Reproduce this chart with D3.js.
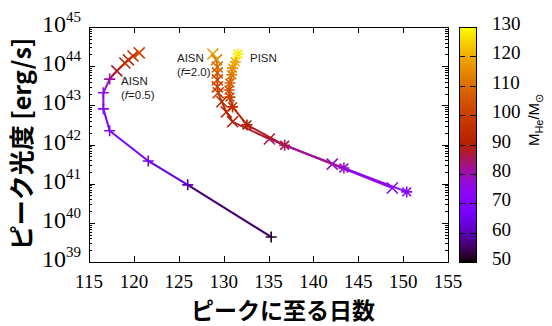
<!DOCTYPE html>
<html>
<head>
<meta charset="utf-8">
<script src="https://cdn.jsdelivr.net/npm/d3@7"></script>
<style>
  body { margin: 0; background: #fff; }
  svg { display: block; }
</style>
</head>
<body>
<div id="container"></div>
<script>
const WIDTH = 552;
const HEIGHT = 326;
const PLOT = { LEFT: 89, RIGHT: 448, TOP: 27, BOTTOM: 262 };
const BAR = { LEFT: 459, RIGHT: 476 };

// days to peak, log10 peak luminosity, helium core mass, marker
const aisn05Days = [135.3, 126.0, 121.6, 117.3, 116.6, 116.6, 117.3, 118.1, 119.0, 119.4, 119.9, 120.6];
const aisn05LogL = [39.64, 40.97, 41.58, 42.35, 42.91, 43.32, 43.67, 43.88, 44.08, 44.16, 44.26, 44.34];
const aisn05Mass = [52, 60, 66, 70, 73, 75, 81, 88, 92, 95, 98, 102];
const aisn05Mark = ['+', '+', '+', '+', '+', '+', '+', 'x', 'x', 'x', 'x', 'x'];

const aisn20Days = [148.8, 142.1, 135.1, 131.0, 130.3, 129.8, 129.4, 129.3, 129.3, 129.3, 129.3, 129.2, 128.8];
const aisn20LogL = [40.89, 41.50, 42.14, 42.58, 42.83, 43.09, 43.32, 43.47, 43.65, 43.83, 43.98, 44.16, 44.31];
const aisn20Mass = [72, 78, 86, 90, 92, 95, 98, 101, 103, 106, 109, 113, 118];

const pisnDays = [150.4, 143.4, 136.8, 132.6, 131.0, 130.7, 130.6, 130.7, 130.9, 131.0, 131.3, 131.6];
const pisnLogL = [40.79, 41.40, 41.98, 42.50, 42.96, 43.21, 43.39, 43.57, 43.78, 43.95, 44.11, 44.31];
const pisnMass = [72, 78, 86, 90, 95, 100, 104, 108, 112, 116, 120, 128];

const xTicks = [115, 120, 125, 130, 135, 140, 145, 150, 155];
const yExponents = [39, 40, 41, 42, 43, 44, 45];
const massTicks = [50, 60, 70, 80, 90, 100, 110, 120, 130];

// gnuplot default palette (rgbformulae 7,5,15)
const palette = t => {
  const r = Math.sqrt(t);
  const g = t * t * t;
  const b = Math.max(0, Math.sin(2 * Math.PI * t));
  return d3.rgb(r * 255, g * 255, b * 255).toString();
};
const massToT = d3.scaleLinear().domain([50, 130]).range([0, 1]).clamp(true);
const massColor = m => palette(massToT(m));

const x = d3.scaleLinear().domain([115, 155]).range([PLOT.LEFT, PLOT.RIGHT]);
const y = d3.scaleLog().domain([1e39, 1e45]).range([PLOT.BOTTOM, PLOT.TOP]);
const yBar = d3.scaleLinear().domain([50, 130]).range([PLOT.BOTTOM, PLOT.TOP]);

const svg = d3.select('#container')
  .append('svg')
    .attr('width', WIDTH)
    .attr('height', HEIGHT);

// axes ticks (inward, on all sides)
const axisG = svg.append('g').attr('stroke', '#000').attr('stroke-width', 1);
xTicks.forEach(v => {
  const px = Math.round(x(v)) + 0.5;
  axisG.append('line').attr('x1', px).attr('x2', px).attr('y1', PLOT.BOTTOM).attr('y2', PLOT.BOTTOM - 6);
  axisG.append('line').attr('x1', px).attr('x2', px).attr('y1', PLOT.TOP).attr('y2', PLOT.TOP + 6);
});
yExponents.forEach(e => {
  for (let k = 1; k <= 9; k++) {
    const v = k * Math.pow(10, e);
    if (v > 1e45) break;
    const py = Math.round(y(v)) + 0.5;
    const len = k === 1 ? 6 : 3;
    axisG.append('line').attr('x1', PLOT.LEFT).attr('x2', PLOT.LEFT + len).attr('y1', py).attr('y2', py);
    axisG.append('line').attr('x1', PLOT.RIGHT).attr('x2', PLOT.RIGHT - len).attr('y1', py).attr('y2', py);
  }
});
svg.append('rect')
  .attr('x', PLOT.LEFT + 0.5).attr('y', PLOT.TOP + 0.5)
  .attr('width', PLOT.RIGHT - PLOT.LEFT).attr('height', PLOT.BOTTOM - PLOT.TOP)
  .attr('fill', 'none').attr('stroke', '#000');

// tick labels
svg.append('g').selectAll('text')
  .data(xTicks).enter().append('text')
    .attr('x', d => x(d)).attr('y', 288)
    .attr('text-anchor', 'middle')
    .attr('font-family', '"Liberation Serif", serif')
    .attr('font-size', 19)
    .text(d => d);

const yLab = svg.append('g').selectAll('text')
  .data(yExponents).enter().append('text')
    .attr('x', 81).attr('y', d => y(Math.pow(10, d)) + 5)
    .attr('text-anchor', 'end')
    .attr('font-family', '"Liberation Serif", serif')
    .attr('font-size', 24);
yLab.append('tspan').text('10');
yLab.append('tspan').attr('dy', -10).attr('font-size', 15).text(d => d);

// series
const series = [
  { days: aisn05Days, logL: aisn05LogL, mass: aisn05Mass, marks: aisn05Mark },
  { days: aisn20Days, logL: aisn20LogL, mass: aisn20Mass, marks: aisn20Days.map(() => 'x') },
  { days: pisnDays, logL: pisnLogL, mass: pisnMass, marks: pisnDays.map(() => '*') }
];

const plotG = svg.append('g');
const S = 5.5;
const markPath = (m, cx, cy) => {
  const p = d3.path();
  if (m === '+' || m === '*') {
    p.moveTo(cx - S, cy); p.lineTo(cx + S, cy);
    p.moveTo(cx, cy - S); p.lineTo(cx, cy + S);
  }
  if (m === 'x' || m === '*') {
    const s = m === '*' ? S * 0.8 : S;
    p.moveTo(cx - s, cy - s); p.lineTo(cx + s, cy + s);
    p.moveTo(cx - s, cy + s); p.lineTo(cx + s, cy - s);
  }
  return p.toString();
};

series.forEach(s => {
  const pts = s.days.map((d, i) => ({ px: x(d), py: y(Math.pow(10, s.logL[i])), m: s.mass[i], mk: s.marks[i] }));
  for (let i = 0; i < pts.length - 1; i++) {
    plotG.append('line')
      .attr('x1', pts[i].px).attr('y1', pts[i].py)
      .attr('x2', pts[i + 1].px).attr('y2', pts[i + 1].py)
      .attr('stroke', massColor((pts[i].m + pts[i + 1].m) / 2))
      .attr('stroke-width', 2)
      .attr('stroke-linecap', 'round');
  }
  pts.forEach(p => {
    plotG.append('path')
      .attr('d', markPath(p.mk, p.px, p.py))
      .attr('stroke', massColor(p.m))
      .attr('stroke-width', 1.6)
      .attr('fill', 'none');
  });
});

// annotations
const notes = [
  { t: 'AISN', x: 121, y: 85 },
  { t: '(f=0.5)', x: 121, y: 99, f: true },
  { t: 'AISN', x: 177, y: 62 },
  { t: '(f=2.0)', x: 177, y: 76, f: true },
  { t: 'PISN', x: 250, y: 62 }
];
notes.forEach(n => {
  const t = svg.append('text')
    .attr('x', n.x).attr('y', n.y)
    .attr('font-family', '"Liberation Sans", Arial, sans-serif')
    .attr('font-size', 11.5)
    .attr('fill', '#222');
  if (n.f) {
    t.append('tspan').text('(');
    t.append('tspan').attr('font-style', 'italic').text('f');
    t.append('tspan').text(n.t.slice(2));
  } else {
    t.text(n.t);
  }
});

// colour bar
const defs = svg.append('defs');
const grad = defs.append('linearGradient')
  .attr('id', 'cbar').attr('x1', 0).attr('y1', 1).attr('x2', 0).attr('y2', 0);
d3.range(0, 1.0001, 0.02).forEach(t => {
  grad.append('stop').attr('offset', t).attr('stop-color', palette(t));
});
svg.append('rect')
  .attr('x', BAR.LEFT + 0.5).attr('y', PLOT.TOP + 0.5)
  .attr('width', BAR.RIGHT - BAR.LEFT).attr('height', PLOT.BOTTOM - PLOT.TOP)
  .attr('fill', 'url(#cbar)')
  .attr('stroke', '#000');
massTicks.slice(1, -1).forEach(v => {
  const py = Math.round(yBar(v)) + 0.5;
  svg.append('line').attr('x1', BAR.LEFT).attr('x2', BAR.LEFT + 6).attr('y1', py).attr('y2', py).attr('stroke', '#000');
  svg.append('line').attr('x1', BAR.RIGHT - 6).attr('x2', BAR.RIGHT).attr('y1', py).attr('y2', py).attr('stroke', '#000');
});
svg.append('g').selectAll('text')
  .data(massTicks).enter().append('text')
    .attr('x', 492).attr('y', d => yBar(d) + 3)
    .attr('font-family', '"Liberation Serif", serif')
    .attr('font-size', 19)
    .text(d => d);

const cbLabel = svg.append('text')
  .attr('transform', 'translate(539,120) rotate(-90)')
  .attr('text-anchor', 'middle')
  .attr('font-family', '"Liberation Sans", Arial, sans-serif')
  .attr('font-size', 15);
cbLabel.append('tspan').text('M');
cbLabel.append('tspan').attr('font-size', 11).attr('dy', 4).text('He');
cbLabel.append('tspan').attr('dy', -4).text('/M');
cbLabel.append('tspan').attr('font-size', 11).attr('dy', 4).text('⊙');

// axis titles
svg.append('text')
  .attr('x', 283).attr('y', 319)
  .attr('text-anchor', 'middle')
  .attr('font-family', '"Noto Sans CJK JP", sans-serif')
  .attr('font-weight', 'bold')
  .attr('font-size', 23)
  .text('ピークに至る日数');

svg.append('text')
  .attr('transform', 'translate(31,144) rotate(-90)')
  .attr('text-anchor', 'middle')
  .attr('font-family', '"Noto Sans CJK JP", sans-serif')
  .attr('font-weight', 'bold')
  .attr('font-size', 25)
  .text('ピーク光度 [erg/s]');
</script>
</body>
</html>
